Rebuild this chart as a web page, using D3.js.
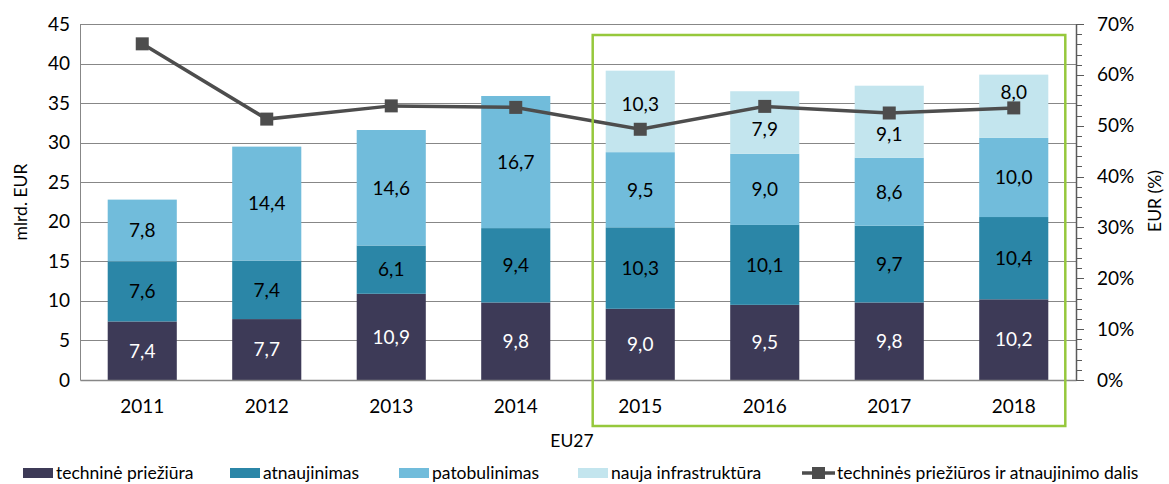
<!DOCTYPE html>
<html>
<head>
<meta charset="utf-8">
<script src="https://cdn.jsdelivr.net/npm/d3@7"></script>
<style>
  body { margin: 0; background: #fff; }
  text { font-family: Lato, "Open Sans", sans-serif; fill: #000; }
</style>
</head>
<body>
<div id="chart"></div>
<script>
// data
var years = ["2011", "2012", "2013", "2014", "2015", "2016", "2017", "2018"];
var maintenance = [7.4, 7.7, 10.9, 9.8, 9.0, 9.5, 9.8, 10.2];
var renewal = [7.6, 7.4, 6.1, 9.4, 10.3, 10.1, 9.7, 10.4];
var upgrade = [7.8, 14.4, 14.6, 16.7, 9.5, 9.0, 8.6, 10.0];
var newInfra = [0, 0, 0, 0, 10.3, 7.9, 9.1, 8.0];
var share = [66.1, 51.3, 53.9, 53.6, 49.3, 53.8, 52.5, 53.5];
var leftTicks = [0, 5, 10, 15, 20, 25, 30, 35, 40, 45];
var rightTicks = [0, 10, 20, 30, 40, 50, 60, 70];
var seriesNames = ["techninė priežiūra", "atnaujinimas", "patobulinimas", "nauja infrastruktūra"];
var lineName = "techninės priežiūros ir atnaujinimo dalis";
var highlightYears = ["2015", "2018"];

var colors = ["#3d3a57", "#2b86a7", "#71bcdb", "#c3e5ee"];
var labelColors = ["#fff", "#000", "#000", "#000"];
// labels of the top segment are nudged off the line markers (px)
var topNudge = [0, 0, 0, 0, -7, 7, 12, -14];

var width = 1169, height = 484;
var margin = { top: 24, right: 93, bottom: 104, left: 80 };

var svg = d3.select("#chart").append("svg")
    .attr("width", width)
    .attr("height", height);

var x = d3.scaleBand()
    .domain(years)
    .range([margin.left, width - margin.right])
    .paddingInner(0.445)
    .paddingOuter(0.2225);

var y = d3.scaleLinear()
    .domain([0, 45])
    .range([height - margin.bottom, margin.top]);

var y2 = d3.scaleLinear()
    .domain([0, 70])
    .range([height - margin.bottom, margin.top]);

// gridlines
svg.append("g")
   .selectAll("line")
   .data(leftTicks.slice(1))
   .join("line")
   .attr("x1", margin.left)
   .attr("x2", width - margin.right)
   .attr("y1", function(d) { return Math.round(y(d)) + 0.5; })
   .attr("y2", function(d) { return Math.round(y(d)) + 0.5; })
   .attr("stroke", "#878787")
   .attr("stroke-width", 1);

// stacked bars
var table = years.map(function(yr, i) {
   return { year: yr, s0: maintenance[i], s1: renewal[i], s2: upgrade[i], s3: newInfra[i] };
});
var stack = d3.stack().keys(["s0", "s1", "s2", "s3"])(table);

var layers = svg.append("g")
   .selectAll("g")
   .data(stack)
   .join("g")
   .attr("fill", function(d, i) { return colors[i]; });

layers.selectAll("rect")
   .data(function(d) { return d; })
   .join("rect")
   .attr("x", function(d) { return x(d.data.year); })
   .attr("width", x.bandwidth())
   .attr("y", function(d) { return y(d[1]); })
   .attr("height", function(d) { return y(d[0]) - y(d[1]); });

// values inside segments
stack.forEach(function(layer, i) {
   svg.append("g")
      .selectAll("text")
      .data(layer.filter(function(d) { return d[1] - d[0] > 0; }))
      .join("text")
      .attr("x", function(d) { return x(d.data.year) + x.bandwidth() / 2; })
      .attr("y", function(d) {
         var nudge = i === 3 ? topNudge[years.indexOf(d.data.year)] : 0;
         return y((d[0] + d[1]) / 2) + nudge;
      })
      .attr("dy", "0.36em")
      .attr("text-anchor", "middle")
      .style("font-size", "19px")
      .style("fill", labelColors[i])
      .text(function(d) { return d3.format(".1f")(d[1] - d[0]).replace(".", ","); });
});

// left axis
var leftAxis = svg.append("g")
   .attr("transform", "translate(" + margin.left + ",0)")
   .call(d3.axisLeft(y).tickValues(leftTicks).tickSize(0).tickPadding(10));
leftAxis.select(".domain").attr("stroke", "#878787");
leftAxis.selectAll("text").style("font-size", "19px").attr("font-family", null);

// bottom axis
var bottomAxis = svg.append("g")
   .attr("transform", "translate(0," + (height - margin.bottom) + ")")
   .call(d3.axisBottom(x).tickSize(0).tickPadding(20));
bottomAxis.select(".domain").attr("stroke", "#878787").attr("stroke-width", 1.5);
bottomAxis.selectAll("text").style("font-size", "19px").attr("font-family", null);

// right axis with minor ticks
var rightX = width - margin.right;
var minor = d3.range(0, 71, 2);
svg.append("g")
   .selectAll("line")
   .data(minor)
   .join("line")
   .attr("x1", rightX)
   .attr("x2", function(d) { return d % 10 === 0 ? rightX + 8 : rightX + 6; })
   .attr("y1", function(d) { return Math.round(y2(d)) + 0.5; })
   .attr("y2", function(d) { return Math.round(y2(d)) + 0.5; })
   .attr("stroke", "#5a5a5a")
   .attr("stroke-width", 1);
var rightAxis = svg.append("g")
   .attr("transform", "translate(" + rightX + ",0)")
   .call(d3.axisRight(y2).tickValues(rightTicks).tickSize(0).tickPadding(21)
      .tickFormat(function(d) { return d + "%"; }));
rightAxis.select(".domain").attr("stroke", "#5a5a5a").attr("stroke-width", 1.5);
rightAxis.selectAll("text").style("font-size", "19px").attr("font-family", null);

// axis titles
svg.append("text")
   .attr("transform", "translate(21," + 202 + ") rotate(-90)")
   .attr("text-anchor", "middle")
   .attr("dy", "0.35em")
   .style("font-size", "17.5px")
   .text("mlrd. EUR");

svg.append("text")
   .attr("transform", "translate(1155," + 201 + ") rotate(-90)")
   .attr("text-anchor", "middle")
   .attr("dy", "0.35em")
   .style("font-size", "17.5px")
   .text("EUR (%)");

svg.append("text")
   .attr("x", 572)
   .attr("y", 441)
   .attr("dy", "0.35em")
   .attr("text-anchor", "middle")
   .style("font-size", "17.5px")
   .text("EU27");

// share line
var line = d3.line()
   .x(function(d, i) { return x(years[i]) + x.bandwidth() / 2; })
   .y(function(d) { return y2(d); });

svg.append("path")
   .datum(share)
   .attr("fill", "none")
   .attr("stroke", "#4d4d4d")
   .attr("stroke-width", 3.5)
   .attr("d", line);

svg.append("g")
   .selectAll("rect")
   .data(share)
   .join("rect")
   .attr("x", function(d, i) { return x(years[i]) + x.bandwidth() / 2 - 6.5; })
   .attr("y", function(d) { return y2(d) - 6.5; })
   .attr("width", 13)
   .attr("height", 13)
   .attr("fill", "#4d4d4d");

// highlight frame around 2015-2018
var x0 = x(highlightYears[0]) - 13;
var x1 = x(highlightYears[1]) + x.bandwidth() + 17;
svg.append("rect")
   .attr("x", x0)
   .attr("y", 35)
   .attr("width", x1 - x0)
   .attr("height", 391)
   .attr("fill", "none")
   .attr("stroke", "#96c83c")
   .attr("stroke-width", 2.5);

// legend
var legendY = 473;
var legendX = [23, 230, 399, 578];
var legend = svg.append("g");
seriesNames.forEach(function(name, i) {
   legend.append("rect")
      .attr("x", legendX[i])
      .attr("y", legendY - 5)
      .attr("width", 30)
      .attr("height", 10)
      .attr("fill", colors[i]);
   legend.append("text")
      .attr("x", legendX[i] + 33)
      .attr("y", legendY)
      .attr("dy", "0.35em")
      .style("font-size", "17.5px")
      .text(name);
});
legend.append("line")
   .attr("x1", 802).attr("x2", 835)
   .attr("y1", legendY).attr("y2", legendY)
   .attr("stroke", "#4d4d4d").attr("stroke-width", 3.5);
legend.append("rect")
   .attr("x", 812).attr("y", legendY - 6)
   .attr("width", 13).attr("height", 12)
   .attr("fill", "#4d4d4d");
legend.append("text")
   .attr("x", 837)
   .attr("y", legendY)
   .attr("dy", "0.35em")
   .style("font-size", "17.5px")
   .text(lineName);
</script>
</body>
</html>
